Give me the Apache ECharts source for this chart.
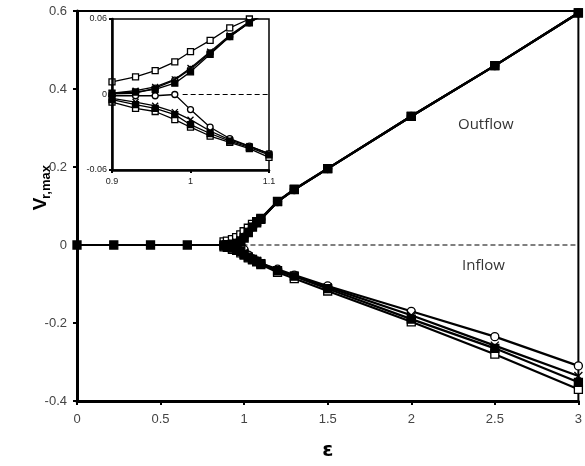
<!DOCTYPE html>
<html>
<head>
<meta charset="utf-8">
<script src="https://cdn.jsdelivr.net/npm/echarts@6/dist/echarts.min.js"></script>
<style>
  html, body { margin: 0; padding: 0; background: #fff; }
  #main { width: 585px; height: 466px; }
</style>
</head>
<body>
<div id="main"></div>
<script>
// epsilon values before the bifurcation (only the filled-square run has them)
const epsLead = [0, 0.22, 0.44, 0.66];
const leadVals = [0, 0, 0, 0];
// epsilon values shared by every run
const eps = [0.88, 0.9, 0.93, 0.955, 0.98, 1.0, 1.025, 1.05, 1.075, 1.1, 1.2, 1.3, 1.5, 2, 2.5, 3];

// outflow (upper) and inflow (lower) branches
const filledUp = [0, 0.001, 0.002, 0.004, 0.009, 0.018, 0.032, 0.046, 0.057, 0.066, 0.111, 0.142, 0.196, 0.33, 0.46, 0.595];
const filledLo = [-0.002, -0.004, -0.008, -0.011, -0.016, -0.024, -0.031, -0.037, -0.042, -0.048, -0.066, -0.08, -0.112, -0.19, -0.265, -0.352];
const openSqUp = [0.008, 0.010, 0.014, 0.019, 0.026, 0.034, 0.043, 0.053, 0.060, 0.068, 0.112, 0.143, 0.196, 0.33, 0.46, 0.595];
const openSqLo = [-0.005, -0.006, -0.011, -0.0135, -0.02, -0.026, -0.033, -0.038, -0.043, -0.05, -0.07, -0.086, -0.118, -0.197, -0.28, -0.37];
const crossUp = [0, 0.001, 0.003, 0.006, 0.012, 0.021, 0.034, 0.047, 0.058, 0.066, 0.111, 0.142, 0.196, 0.33, 0.46, 0.595];
const crossLo = [-0.001, -0.003, -0.006, -0.009, -0.014, -0.02, -0.029, -0.036, -0.041, -0.047, -0.065, -0.079, -0.108, -0.18, -0.258, -0.336];
const circleUp = [0, 0.0005, 0.001, 0.005, 0.0115, 0.02, 0.033, 0.046, 0.057, 0.066, 0.111, 0.142, 0.196, 0.33, 0.46, 0.595];
const circleLo = [0, -0.001, -0.001, -0.001, 0, -0.012, -0.026, -0.035, -0.041, -0.047, -0.062, -0.077, -0.105, -0.17, -0.235, -0.31];

// zero reference line
const zeroLineX = [0.99, 3];

const xTicksMain = { min: 0, max: 3, interval: 0.5 };
const yTicksMain = { min: -0.4, max: 0.6, interval: 0.2 };
const xTicksInset = { min: 0.9, max: 1.1, interval: 0.1 };
const yTicksInset = { min: -0.06, max: 0.06, interval: 0.06 };

const CROSS = 'path://M0,0L10,10M10,0L0,10';
const FONT = '"Liberation Sans", Arial, sans-serif';

function pairs(xs, ys) {
  return xs.map((x, i) => [x, ys[i]]);
}

// marker styles for each run, drawn in this order (filled squares on top)
const runs = [
  { up: openSqUp, lo: openSqLo, symbol: 'rect', fill: '#fff' },
  { up: circleUp, lo: circleLo, symbol: 'circle', fill: '#fff' },
  { up: crossUp, lo: crossLo, symbol: CROSS, fill: 'transparent' },
  { up: filledUp, lo: filledLo, symbol: 'rect', fill: '#000', lead: true }
];

function buildSeries(gridIdx) {
  let inset = gridIdx === 1;
  let zBase = inset ? 20 : 3;
  let out = [];
  out.push({
    type: 'line',
    xAxisIndex: gridIdx,
    yAxisIndex: gridIdx,
    data: pairs(zeroLineX, [0, 0]),
    symbol: 'none',
    clip: true,
    silent: true,
    animation: false,
    lineStyle: { color: '#000', width: 1, type: [5, 3] },
    z: zBase
  });
  runs.forEach((r, n) => {
    [r.up, r.lo].forEach((vals, k) => {
      let data = pairs(eps, vals);
      if (r.lead && k === 0) data = pairs(epsLead, leadVals).concat(data);
      out.push({
        type: 'line',
        xAxisIndex: gridIdx,
        yAxisIndex: gridIdx,
        data: data,
        symbol: r.symbol,
        symbolSize: inset ? 6 : 8,
        showAllSymbol: true,
        clip: true,
        silent: true,
        animation: false,
        lineStyle: { color: '#000', width: inset ? 1.3 : 2.2 },
        itemStyle: { color: r.fill, borderColor: '#000', borderWidth: 1.3 },
        z: zBase + 1 + n
      });
    });
  });
  return out;
}

const chart = echarts.init(document.getElementById('main'));

const axisBase = {
  type: 'value',
  splitLine: { show: false },
  axisLine: { show: true, onZero: false, lineStyle: { color: '#000', width: 3 } },
  axisTick: { show: true, length: 4, lineStyle: { color: '#000', width: 2 } }
};

chart.setOption({
  backgroundColor: '#fff',
  animation: false,
  grid: [
    { left: 77, right: 6, top: 11, bottom: 65, show: true, borderColor: '#000', borderWidth: 2 },
    { left: 112, top: 19, width: 157, height: 151, show: true, borderColor: '#000', borderWidth: 1.5, backgroundColor: '#fff', z: 5 }
  ],
  xAxis: [
    Object.assign({}, axisBase, xTicksMain, {
      gridIndex: 0,
      axisLabel: { color: '#444', fontSize: 13, fontFamily: FONT, margin: 12 },
      name: 'ε',
      nameLocation: 'middle',
      nameGap: 40,
      nameTextStyle: { color: '#000', fontSize: 20, fontWeight: 'bold', fontFamily: 'DejaVu Sans' }
    }),
    Object.assign({}, axisBase, xTicksInset, {
      gridIndex: 1,
      z: 30,
      axisLine: { show: true, onZero: false, lineStyle: { color: '#000', width: 2.5 } },
      axisTick: { show: true, length: 3, lineStyle: { color: '#000', width: 2 } },
      axisLabel: { color: '#222', fontSize: 9, fontFamily: FONT, margin: 7 }
    })
  ],
  yAxis: [
    Object.assign({}, axisBase, yTicksMain, {
      gridIndex: 0,
      axisLabel: { color: '#444', fontSize: 13, fontFamily: FONT, margin: 10 }
    }),
    Object.assign({}, axisBase, yTicksInset, {
      gridIndex: 1,
      z: 30,
      axisLine: { show: true, onZero: false, lineStyle: { color: '#000', width: 2.5 } },
      axisTick: { show: true, length: 3, lineStyle: { color: '#000', width: 2 } },
      axisLabel: { color: '#222', fontSize: 9, fontFamily: FONT, margin: 5 }
    })
  ],
  graphic: [
    // y axis title: V with subscript r,max, rotated
    {
      type: 'text', x: 41, y: 204, rotation: Math.PI / 2,
      style: { text: 'V', align: 'center', verticalAlign: 'middle', fill: '#000', font: 'bold 19px "Liberation Sans"' }
    },
    {
      type: 'text', x: 46, y: 182, rotation: Math.PI / 2,
      style: { text: 'r,max', align: 'center', verticalAlign: 'middle', fill: '#000', font: 'bold 13px "Liberation Sans"' }
    },
    { type: 'text', left: 458, top: 117, style: { text: 'Outflow', fill: '#333', font: '15px "Open Sans"' } },
    { type: 'text', left: 462, top: 258, style: { text: 'Inflow', fill: '#333', font: '15px "Open Sans"' } }
  ],
  series: buildSeries(0).concat(buildSeries(1))
});
</script>
</body>
</html>
